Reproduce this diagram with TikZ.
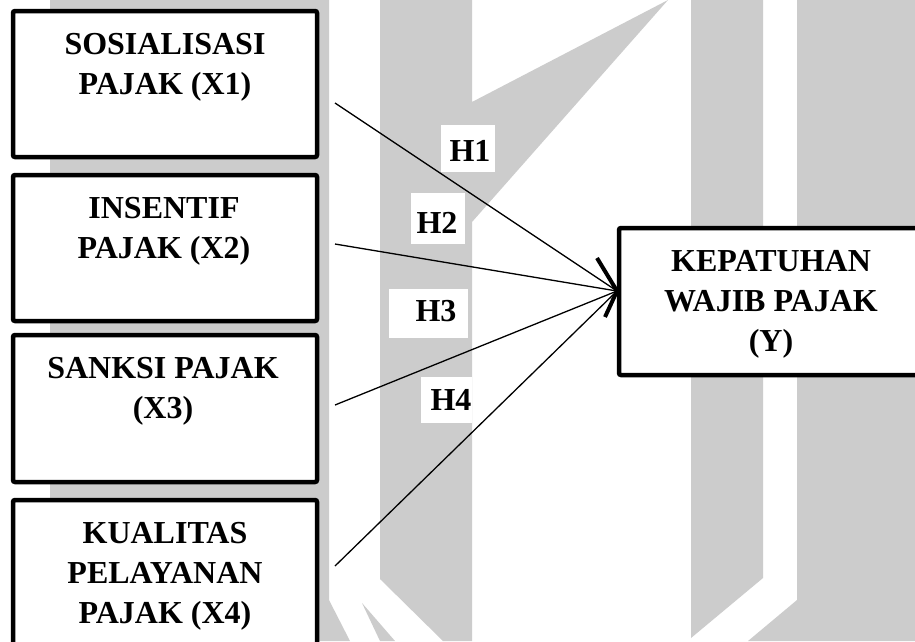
\documentclass[tikz,border=0pt]{standalone}
\usepackage{fontspec}
\setmainfont{Liberation Serif}
\usetikzlibrary{calc}
\definecolor{wm}{RGB}{204,204,204}
\tikzset{
  box/.style={draw=black, line width=4.5pt, fill=white, rounded corners=2pt, inner sep=0pt},
  lbl/.style={font=\fontsize{32}{40}\selectfont\bfseries, align=center, inner sep=0pt, anchor=north},
  hbg/.style={fill=white, draw=none, inner sep=0pt},
  htxt/.style={font=\fontsize{32}{40}\selectfont\bfseries, inner sep=0pt},
  conn/.style={draw=black, line width=1.3pt},
  chev/.style={draw=black, line width=4pt, line join=miter},
  wmark/.style={fill=wm, draw=none}
}
\begin{document}
\begin{tikzpicture}[x=1pt, y=-1pt]
\path[use as bounding box] (0,0) rectangle (915,641);
\clip (0,0) rectangle (915,641);
\fill[white] (0,0) rectangle (915,641);
% watermark shapes
\path[wmark] (50,0) -- (329,0) -- (329,600) -- (350,641) -- (50,641) -- cycle;
\path[wmark] (362,603) -- (395,641) -- (380,641) -- cycle;
\path[wmark] (380,0) -- (472,0) -- (472,102) -- (668,0) -- (472,222) -- (472,641) -- (443,641) -- (380,579) -- cycle;
\path[wmark] (691,0) -- (763,0) -- (763,578) -- (691,638) -- cycle;
\path[wmark] (797,0) -- (915,0) -- (915,641) -- (748,641) -- (797,600) -- cycle;
% boxes
\node[box, minimum width=304pt, minimum height=146pt] (b1) at (165,84) {};
\node[box, minimum width=304pt, minimum height=146pt] (b2) at (165,248) {};
\node[box, minimum width=304pt, minimum height=147pt] (b3) at (165,408.5) {};
\node[box, minimum width=304pt, minimum height=150pt] (b4) at (165,575) {};
\node[box, minimum width=341pt, minimum height=147pt] (by) at (789.5,301.5) {};
\node[lbl] (t1) at (165,33) {SOSIALISASI\\PAJAK (X1)};
\node[lbl] (t2) at (164,197) {INSENTIF\\PAJAK (X2)};
\node[lbl] (t3) at (163,357) {SANKSI PAJAK\\(X3)};
\node[lbl] (t4) at (165,522) {KUALITAS\\PELAYANAN\\PAJAK (X4)};
\node[lbl] (ty) at (771,250) {KEPATUHAN\\WAJIB PAJAK\\(Y)};
% connectors
\coordinate (s1) at (335,103);
\coordinate (s2) at (335,244);
\coordinate (s3) at (335,405);
\coordinate (s4) at (335,566);
\coordinate (tip) at (617,291);
\draw[conn] (s1) -- (tip);
\draw[conn] (s2) -- (tip);
\draw[conn] (s3) -- (tip);
\draw[conn] (s4) -- (tip);
\draw[chev] ($(tip)+(-20,-33)$) -- (tip) -- ($(tip)+(-12,26)$);
% hypothesis labels
\node[hbg, minimum width=54pt, minimum height=47pt] (hb1) at (468,148.5) {};
\node[hbg, minimum width=54pt, minimum height=51pt] (hb2) at (438,218.5) {};
\node[hbg, minimum width=79pt, minimum height=49pt] (hb3) at (428.5,313.5) {};
\node[hbg, minimum width=51pt, minimum height=46pt] (hb4) at (446.5,400) {};
\node[htxt] (h1) at (470,151) {H1};
\node[htxt] (h2) at (437,223) {H2};
\node[htxt] (h3) at (436,311) {H3};
\node[htxt] (h4) at (451,400) {H4};
\end{tikzpicture}
\end{document}
